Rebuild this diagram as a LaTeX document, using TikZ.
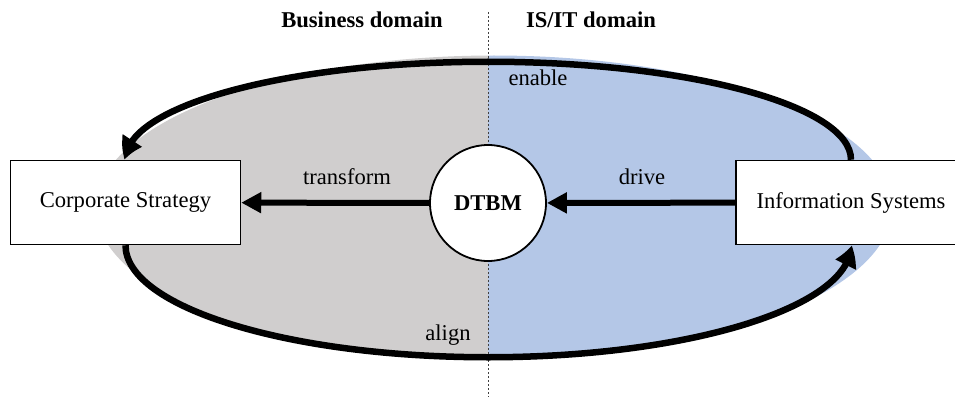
\documentclass[tikz,border=0pt]{standalone}
\usepackage{fontspec}
\setmainfont{Liberation Serif}
\usetikzlibrary{arrows.meta,bending}

\definecolor{bizgray}{HTML}{D0CECE}
\definecolor{itblue}{HTML}{B4C7E7}

\tikzset{
  every node/.style={font=\fontsize{22.6}{27}\selectfont},
  box/.style={draw=black, line width=1.5pt, fill=white, minimum width=230pt,
              minimum height=84pt, inner sep=0pt},
  hub/.style={draw=black, line width=1.8pt, fill=white, circle,
              minimum size=116pt, inner sep=0pt, font=\fontsize{22.6}{27}\selectfont\bfseries},
  flow/.style={line width=6pt, -{Triangle[length=20pt,width=20pt]}},
  loop/.style={line width=6.5pt, -{Triangle[length=20pt,width=22pt,bend]}},
  heading/.style={font=\fontsize{22.6}{27}\selectfont\bfseries},
  divider/.style={draw=black!75, line width=0.7pt, dash pattern=on 2pt off 2pt}
}

\begin{document}
\begin{tikzpicture}[x=1pt,y=1pt]
  \useasboundingbox (0,0) rectangle (955,397);
  \clip (0,0) rectangle (955,397);

  % two-tone backdrop ellipse
  \begin{scope}
    \clip (0,0) rectangle (488,397);
    \fill[bizgray] (494,189.5) ellipse [x radius=398, y radius=152];
  \end{scope}
  \begin{scope}
    \clip (488,0) rectangle (955,397);
    \fill[itblue] (494,189.5) ellipse [x radius=398, y radius=152];
  \end{scope}

  % domain divider
  \draw[divider] (488,385) -- (488,0);

  % headings
  \node[heading] (biz) at (362,377) {Business domain};
  \node[heading] (it)  at (591,377) {IS/IT domain};

  % main nodes
  \node[box] (cs)   at (125.5,194.5) {Corporate Strategy};
  \node[box] (is)   at (851,194.5)   {Information Systems};
  \node[hub] (dtbm) at (488,194)     {DTBM};

  % straight flows
  \draw[flow] (dtbm) -- (cs);
  \draw[flow] (is) -- (dtbm);

  % outer loops
  \draw[loop] (is.north) arc [start angle=0, end angle=180, x radius=362.75, y radius=98];
  \draw[loop] (cs.south) arc [start angle=180, end angle=360, x radius=362.75, y radius=112];

  % labels
  \node (lenable)    at (538,319) {enable};
  \node (ltransform) at (347,220) {transform};
  \node (ldrive)     at (642,220) {drive};
  \node (lalign)     at (448,62)  {align};
\end{tikzpicture}
\end{document}
